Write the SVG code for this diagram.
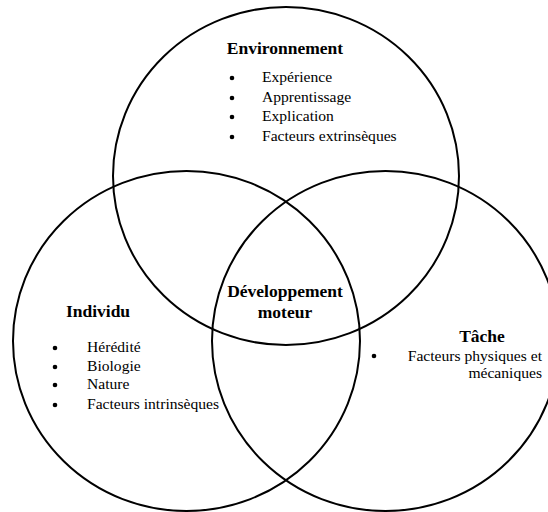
<svg xmlns="http://www.w3.org/2000/svg" width="548" height="512" viewBox="0 0 548 512">
<style>
.c{fill:none;stroke:#000;stroke-width:2}
.t{font-family:"Liberation Serif","Times New Roman","DejaVu Serif",serif;font-weight:bold;font-size:17.5px;fill:#000}
.i{font-family:"Liberation Serif","Times New Roman","DejaVu Serif",serif;font-size:15.6px;fill:#000}
.b{fill:#000}
</style>
<rect width="548" height="512" fill="#fff"/>
<g id="connectors"></g>
<g id="environnement">
<ellipse class="c" cx="286" cy="176" rx="173" ry="169"/>
<text class="t" x="285" y="54" text-anchor="middle">Environnement</text>
<circle class="b" cx="232" cy="78" r="2.3"/>
<circle class="b" cx="232" cy="98" r="2.3"/>
<circle class="b" cx="232" cy="117" r="2.3"/>
<circle class="b" cx="232" cy="137" r="2.3"/>
<text class="i" x="262" y="82">Expérience</text>
<text class="i" x="262" y="102">Apprentissage</text>
<text class="i" x="262" y="121">Explication</text>
<text class="i" x="262" y="141">Facteurs extrinsèques</text>
</g>
<g id="individu">
<ellipse class="c" cx="186.5" cy="341" rx="173.5" ry="170"/>
<text class="t" x="98" y="317" text-anchor="middle">Individu</text>
<circle class="b" cx="55" cy="348" r="2.3"/>
<circle class="b" cx="55" cy="367" r="2.3"/>
<circle class="b" cx="55" cy="385" r="2.3"/>
<circle class="b" cx="55" cy="405" r="2.3"/>
<text class="i" x="87" y="352">Hérédité</text>
<text class="i" x="87" y="371">Biologie</text>
<text class="i" x="87" y="389">Nature</text>
<text class="i" x="87" y="409">Facteurs intrinsèques</text>
</g>
<g id="tache">
<ellipse class="c" cx="385.5" cy="341" rx="173.5" ry="170"/>
<text class="t" x="482" y="342" text-anchor="middle">Tâche</text>
<circle class="b" cx="374" cy="356" r="2.3"/>
<text class="i" x="542" y="361" text-anchor="end">Facteurs physiques et</text>
<text class="i" x="542" y="378" text-anchor="end">mécaniques</text>
</g>
<g id="developpement">
<text class="t" x="285" y="297" text-anchor="middle">Développement</text>
<text class="t" x="285" y="318" text-anchor="middle">moteur</text>
</g>
</svg>
